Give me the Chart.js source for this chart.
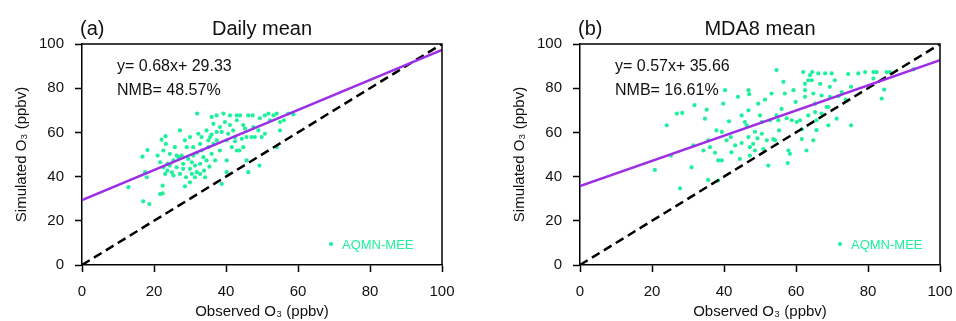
<!DOCTYPE html>
<html><head><meta charset="utf-8">
<script src="https://cdn.jsdelivr.net/npm/chart.js@4"></script>
<style>
html,body{margin:0;padding:0;background:#fff;}
#wrap{position:relative;width:956px;height:321px;}
canvas{position:absolute;top:0;}
</style></head>
<body><div id="wrap"><canvas id="ca" width="478" height="321" style="left:0"></canvas><canvas id="cb" width="478" height="321" style="left:478px"></canvas></div>
<script>
// ---- data ----
const axisTicks = [0, 20, 40, 60, 80, 100];
const panelLabels = ["(a)", "(b)"];
const panelTitles = ["Daily mean", "MDA8 mean"];
const fitTexts = ["y= 0.68x+ 29.33", "y= 0.57x+ 35.66"];
const nmbTexts = ["NMB= 48.57%", "NMB= 16.61%"];
const seriesName = "AQMN-MEE";
const xTitle = "Observed O₃ (ppbv)";
const yTitle = "Simulated O₃ (ppbv)";

const obsDaily = [12.9,17,18.7,16.8,18.2,18,17.5,21,22.1,23.2,23.3,22.6,21.7,22.6,23.7,24.4,25,23.1,22.4,21.7,22.4,25.4,26.3,26.8,25.8,27.2,28.6,30,29.1,27.7,28.1,27.2,28.9,30,28.6,30.9,30.5,30,31.4,32.3,32,32.8,33.2,33.7,31.9,32.8,33.9,34.6,35.6,36,36.5,35.1,36,37,36.5,37.4,34.6,35.4,39.3,39.7,38.8,38.3,40.2,40.6,42,41.6,42.5,40.2,38.8,43,43.9,44.8,45.3,44.4,43.7,45.7,46.2,47.1,48,47.4,46.2,49.4,49,49.9,49.3,50.8,51.8,52.2,53.2,54.1,55,55,56.1,57.3,58.7,54.1,43,41.1,37.4,29.5,30.5,31.4,32.8,34.2,28.1,24.4,23.7,25.4,26.3,31.9,37.4,38.3,41.1,42.5,43,40.2,44.8,45.7,47.6,50.8,35.1,36,33.2,30.9];
const simDaily = [35.2,28.8,27.6,49,52,39.7,42,49.5,56.7,58.3,54.8,51.8,46.5,44.2,42.7,50.3,41.9,41.2,35.9,32.1,32.4,47.3,44.2,48.8,53.3,60.9,56.4,57.9,53.3,49.5,45.8,41.2,39.7,37.4,35.6,49.5,46.5,43.5,45,59.4,68.5,54.8,51.8,48.8,42,45.8,42.7,60.9,57.9,67,63.9,53.3,50.3,47.3,54.8,56.4,47.3,44.5,68.5,64.7,60.2,51.8,56.4,59.4,60.9,53.3,57.9,47.3,36.7,65.5,67.7,63.3,61.7,57.1,51.8,47.3,42,57.9,57.9,67.7,67.7,66.4,60.9,57.9,45,67.7,68.5,65.5,67.7,68.5,64.7,60.9,65.5,68.5,68.2,53.3,67.7,67.7,67.7,48,41.2,39.7,41.2,39.7,43.5,45,45.8,40.5,49.5,50.8,60.2,62.4,63.3,56,51.8,42,53.3,57.9,62.4,59.4,56.4,59,57.9,53.3];

const obsMDA8 = [20.8,24.1,26.9,28.4,25.3,27.8,31.8,35.2,34.7,31.5,34.3,35.6,36.1,37.9,39.4,39.8,40.3,38.4,39.4,35.6,38.4,41.4,41.9,43.9,44.9,45.8,46.3,44.4,46.8,47.2,47.2,48.1,48.6,46.8,47,49.5,50,50.5,50.5,51.4,51.9,52.3,52.8,53.2,53.7,54.2,54.6,54.6,55.1,55.3,56.5,56.9,57.4,57.7,57.9,58.3,58.8,59.3,59.9,60.2,61.1,61.6,62,62.5,62.5,62.5,62.9,63.4,63.9,64.4,64.5,64.8,64.8,65.3,65.3,65.7,66.2,66.7,67.1,68.1,68.5,69,69.4,69.4,69.9,70.8,71.3,72.7,73.8,74.5,75.3,75.3,77.3,79.2,81.5,82.4,83.8,84.5,85.2,86.1,92.6,81.5,31,37.5,40.7,42.1,43.1,44.9,48.6,49.3,50.9,46.8,61.6,63.4,67.1,69,71.8,56,65.7];
const simMDA8 = [43,63.2,68.5,68.8,49.5,34.7,72.3,70.3,66.2,54.1,51.8,56.4,53.3,60.9,60.2,73,79.1,47.3,47.3,38.5,38.2,65,57.9,76.1,67.7,64.7,63.2,48,57.9,53.3,49.5,54.8,51.8,79.1,77.3,73,67.7,64.7,59.4,74.8,56.4,45,65.5,77.6,57,56.4,88.2,67.7,65.5,60.9,82.9,77.6,66.4,46.1,51.8,50.3,65.5,79.1,73.8,64.7,65.5,57,87.3,82,79.1,76.1,51.8,83.6,85.9,83.6,87.3,77.6,56.4,73,69.2,65.5,86.7,82,76.7,86.7,71.5,63.2,80.6,76.1,86.7,83.6,66.2,78.2,74.8,86.4,80.6,63.2,86.7,87.3,87.3,87.3,75.3,79.4,87.3,87.3,88.5,84.4,44.2,50.8,56.4,51,54.1,55.2,60.3,57.3,52.5,70,61.4,67.7,68.5,71.5,76.4,70.6,61];

// regression lines (end points at x=0 and x=100, as drawn) and 1:1 line
const fitLineX = [0, 100];
const fitDailyY = [29.33, 97.33];
const fitMDA8Y = [35.66, 92.66];
const oneToOneY = [0, 100];

// ---- drawing ----
const FONT = "'Liberation Sans', Arial, Helvetica, sans-serif";
const GREEN = '#1ff09c';
const PURPLE = '#9d2ee8';

function pts(xs, ys){ return xs.map((x,i)=>({x:x, y:ys[i]})); }

function framePlugin(idx){
  return {
    id:'frame'+idx,
    afterDraw(chart){
      const a = chart.chartArea, ctx = chart.ctx;
      ctx.save();
      ctx.strokeStyle = '#000'; ctx.lineWidth = 1.5;
      ctx.beginPath();
      ctx.moveTo(a.left, a.top); ctx.lineTo(a.right, a.top); ctx.lineTo(a.right, a.bottom);
      ctx.stroke();
      ctx.fillStyle = '#111';
      ctx.textBaseline = 'alphabetic';
      ctx.font = '20px ' + FONT;
      ctx.textAlign = 'left';
      ctx.fillText(panelLabels[idx], a.left - 2, 35);
      ctx.textAlign = 'center';
      ctx.fillText(panelTitles[idx], (a.left + a.right)/2, 35);
      ctx.textAlign = 'left';
      ctx.font = '16px ' + FONT;
      ctx.fillText(fitTexts[idx], a.left + 35, 71);
      ctx.fillText(nmbTexts[idx], a.left + 35, 95);
      // legend
      const lx = idx === 0 ? a.left + 249 : a.left + 260;
      ctx.fillStyle = GREEN;
      ctx.beginPath(); ctx.arc(lx, 244, 2.1, 0, Math.PI*2); ctx.fill();
      ctx.font = '13px ' + FONT;
      ctx.fillText(seriesName, lx + 11, 249);
      ctx.restore();
    }
  };
}

function noOverhang(s){ s.paddingLeft = 0; s.paddingRight = 0; s.paddingTop = 0; s.paddingBottom = 0; }

function makeChart(id, idx, obs, sim, fitY, padLeft, padRight){
  const tickCb = v => v;
  const axisCommon = {
    type:'linear', min:0, max:100,
    afterBuildTicks(s){ s.ticks = axisTicks.map(v=>({value:v})); },
    grid:{display:true, drawOnChartArea:false, drawTicks:true, tickLength:7, tickColor:'#000', tickWidth:1.5},
    border:{display:true, color:'#000', width:1.5},
    ticks:{color:'#111', font:{family:FONT, size:15}, callback:tickCb}
  };
  return new Chart(document.getElementById(id), {
    type:'scatter',
    data:{datasets:[
      {label:seriesName, data:pts(obs, sim), backgroundColor:GREEN, borderColor:GREEN, pointRadius:2.1, pointBorderWidth:0, showLine:false, order:3},
      {label:'1:1', data:pts(fitLineX, oneToOneY), showLine:true, borderColor:'#000', borderWidth:2.5, borderDash:[9,5], pointRadius:0, order:2},
      {label:'fit', data:pts(fitLineX, fitY), showLine:true, borderColor:PURPLE, borderWidth:2.5, pointRadius:0, order:1}
    ]},
    options:{
      responsive:false, animation:false, devicePixelRatio:1,
      layout:{padding:{left:padLeft, right:padRight, top:44, bottom:0}},
      plugins:{legend:{display:false}, tooltip:{enabled:false}, title:{display:false}},
      scales:{
        x:Object.assign({}, axisCommon, {
          ticks:Object.assign({}, axisCommon.ticks, {padding:11, maxRotation:0}),
          title:{display:true, text:xTitle, color:'#111', font:{family:FONT, size:15}, padding:{top:0,bottom:0}},
          afterFit(s){ s.height = 56; noOverhang(s); }
        }),
        y:Object.assign({}, axisCommon, {
          ticks:Object.assign({}, axisCommon.ticks, {padding:11}),
          title:{display:true, text:yTitle, color:'#111', font:{family:FONT, size:15}, padding:{top:13,bottom:0}},
          afterFit(s){ s.width = 82; noOverhang(s); }
        })
      }
    },
    plugins:[framePlugin(idx)]
  });
}

makeChart('ca', 0, obsDaily, simDaily, fitDailyY, 0, 36);
makeChart('cb', 1, obsMDA8, simMDA8, fitMDA8Y, 20, 16);
</script>
</body></html>
